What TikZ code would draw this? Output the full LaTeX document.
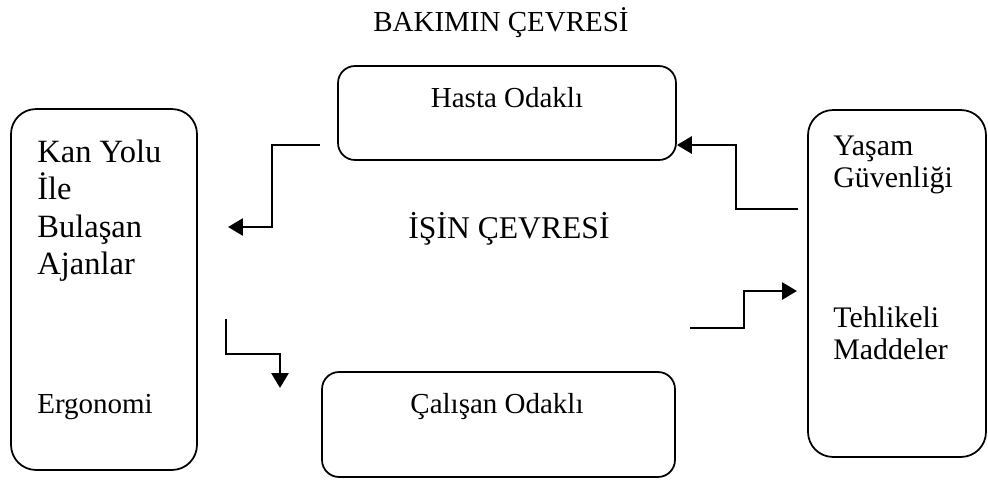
\documentclass[tikz,border=0pt]{standalone}
\usepackage{fontspec}
\setmainfont{Liberation Serif}
\usepackage{tikz}
\usetikzlibrary{arrows.meta}

\tikzset{
  box/.style={draw, line width=1pt, rounded corners=#1, inner sep=0pt},
  box/.default=0.34cm,
  flow/.style={line width=1.6pt, -{Triangle[length=0.3cm, width=0.34cm]}},
  txt/.style={inner sep=0pt, font=\fontsize{16.5}{19}\selectfont},
  bigtxt/.style={inner sep=0pt, font=\fontsize{18.5}{21}\selectfont}
}

\begin{document}
\begin{tikzpicture}[x=0.02cm, y=-0.02cm]
            \useasboundingbox (0,0) rectangle (988,494);

            % Titles
            \node[txt, anchor=base] (bakim) at (501,31) {BAKIMIN ÇEVRESİ};
            \node[inner sep=0pt, font=\fontsize{18}{21}\selectfont, anchor=base] (isin) at (509,238) {İŞİN ÇEVRESİ};

            % Boxes
            \node[box=0.5cm, minimum width=3.72cm, minimum height=7.22cm] (sol) at (104,289.5) {};
            \node[box=0.5cm, minimum width=3.56cm, minimum height=6.94cm] (sag) at (897,283.5) {};
            \node[box, minimum width=6.76cm, minimum height=1.88cm] (hasta) at (507,113) {};
            \node[box, minimum width=7.06cm, minimum height=2.1cm] (calisan) at (498.5,424.5) {};

            % Box texts
            \node[txt, anchor=base] (hastat) at (507,107) {Hasta Odaklı};
            \node[txt, anchor=base] (calisant) at (497,413) {Çalışan Odaklı};

            \node[bigtxt, anchor=base west] (kan) at (37,162) {Kan Yolu};
            \node[bigtxt, anchor=base west] (ile) at (37,199) {İle};
            \node[bigtxt, anchor=base west] (bulasan) at (37,237) {Bulaşan};
            \node[bigtxt, anchor=base west] (ajan) at (37,274) {Ajanlar};
            \node[txt, anchor=base west] (ergo) at (37,413) {Ergonomi};

            \node[txt, font=\fontsize{17}{19}\selectfont, anchor=base west] (yasam) at (833,155) {Yaşam};
            \node[txt, font=\fontsize{17}{19}\selectfont, anchor=base west] (guven) at (833,187) {Güvenliği};
            \node[txt, font=\fontsize{17}{19}\selectfont, anchor=base west] (tehlike) at (833,327) {Tehlikeli};
            \node[txt, font=\fontsize{17}{19}\selectfont, anchor=base west] (madde) at (833,359) {Maddeler};

            % Connectors
            \coordinate (h1) at (320,145);
            \coordinate (h2) at (228,227);
            \draw[flow] (h1) -- (272,145) |- (h2);

            \coordinate (k1) at (226,319);
            \coordinate (k2) at (280,388);
            \draw[flow] (k1) -- (226,354) -| (k2);

            \coordinate (y1) at (798,209);
            \coordinate (y2) at (736,145);
            \draw[flow] (y1) -| (y2) -- (y2 -| hasta.east);

            \coordinate (t1) at (690,328);
            \coordinate (t2) at (797,291);
            \draw[flow] (t1) -- (744,328) |- (t2);

        \end{tikzpicture}
\end{document}
